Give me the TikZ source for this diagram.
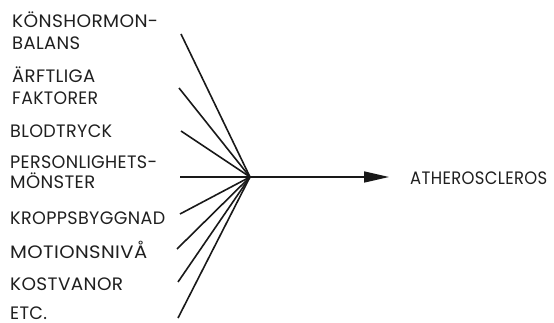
\documentclass[tikz,border=0pt]{standalone}
\usepackage{fontspec}
\setmainfont{Poppins}[LetterSpace=2]
\usetikzlibrary{arrows.meta}
\newcommand{\fitw}[2]{\resizebox{#1pt}{\height}{#2}}
\begin{document}
\begin{tikzpicture}[x=1pt,y=-1pt,
  lbl/.style={anchor=base west,inner sep=0pt,font=\fontsize{18}{20}\selectfont,text=black!88},
  ray/.style={line width=1.6pt,draw=black!90},
  arr/.style={line width=1.6pt,draw=black!90,-{Triangle[length=25pt,width=11pt]}}]
\useasboundingbox (0,0) rectangle (554,323);
\node[lbl] (t1) at (12,28) {\fitw{146}{KÖNSHORMON-}};
\node[lbl] (t2) at (12,50) {\fitw{68}{BALANS}};
\node[lbl] (t3) at (12,83) {\fitw{83}{ÄRFTLIGA}};
\node[lbl] (t4) at (12,105) {\fitw{86}{FAKTORER}};
\node[lbl] (t5) at (10,138) {\fitw{102}{BLODTRYCK}};
\node[lbl] (t6) at (10,169) {\fitw{147}{PERSONLIGHETS-}};
\node[lbl] (t7) at (10,189) {\fitw{85}{MÖNSTER}};
\node[lbl] (t8) at (10,225) {\fitw{155}{KROPPSBYGGNAD}};
\node[lbl] (t9) at (10,258) {\fitw{137}{MOTIONSNIVÅ}};
\node[lbl] (t10) at (10,290) {\fitw{113}{KOSTVANOR}};
\node[lbl] (t11) at (10,319) {\fitw{37}{ETC.}};
\node[lbl] (out) at (410,185) {\fitw{137}{ATHEROSCLEROS}};
\coordinate (c) at (250,177);
\coordinate (s1) at (181,34);
\coordinate (s2) at (179,88);
\coordinate (s3) at (181,131);
\coordinate (s4) at (180,177);
\coordinate (s5) at (180,214);
\coordinate (s6) at (177,249);
\coordinate (s7) at (178,282);
\coordinate (s8) at (178,318);
\coordinate (tip) at (389,177);
\foreach \s in {s1,s2,s3,s4,s5,s6,s7,s8} \draw[ray] (\s) -- (c);
\draw[arr] (c) -- (tip);
\end{tikzpicture}
\end{document}
